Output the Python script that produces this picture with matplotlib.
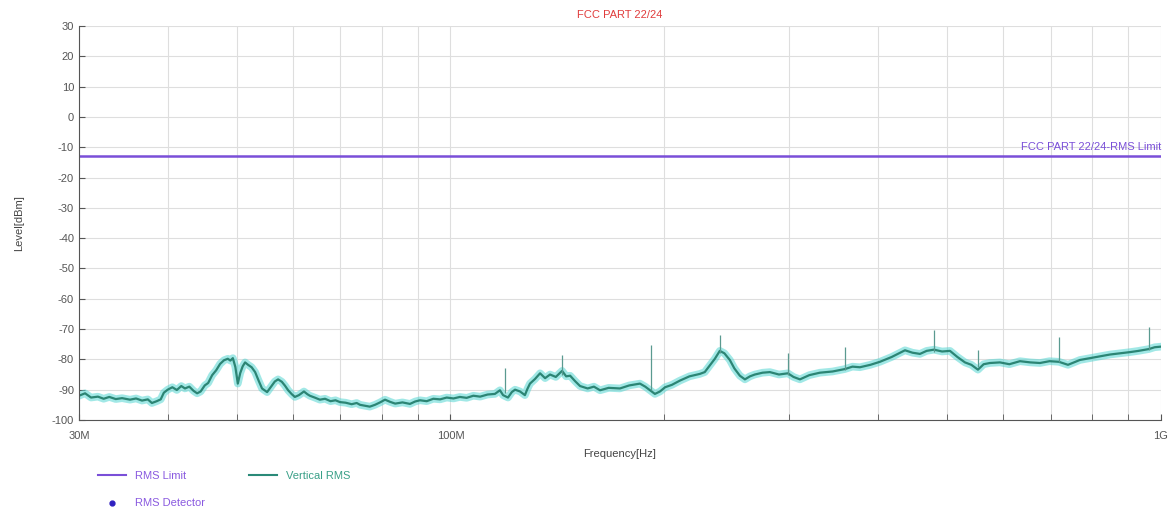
import matplotlib
matplotlib.use("Agg")
import matplotlib.pyplot as plt
from matplotlib.lines import Line2D
import numpy as np

plt.rcParams["font.family"] = ["Liberation Sans", "DejaVu Sans"]
plt.rcParams["axes.unicode_minus"] = False

TITLE = "FCC PART 22/24"
LIMIT_NAME = "FCC PART 22/24-RMS Limit"
LIMIT_DBM = -13.0

# Vertical RMS trace, frequency in MHz, level in dBm
freq_mhz = [
    30.0, 30.6, 31.2, 31.9, 32.5, 33.1, 33.8, 34.5, 35.4, 36.1, 36.8, 37.5, 38.0, 38.6, 39.1,
    39.5, 40.0, 40.6, 41.2, 41.8, 42.3, 42.9, 43.5, 44.0, 44.5, 45.1, 45.6, 46.2, 46.8, 47.4,
    48.0, 48.6, 49.0, 49.4, 49.8, 50.2, 50.6, 51.0, 51.4, 51.9, 52.5, 53.1, 53.7, 54.3, 55.2,
    56.0, 56.6, 57.2, 57.9, 58.5, 59.1, 59.8, 60.4, 61.2, 62.2, 62.9, 63.4, 64.4, 65.5, 66.6,
    67.8, 68.9, 69.9, 71.2, 72.6, 73.8, 74.6, 75.8, 77.0, 78.3, 79.6, 80.9, 82.2, 83.6, 85.6,
    87.7, 89.2, 90.6, 92.6, 94.6, 96.7, 98.8, 101.0, 103.1, 105.4, 107.7, 110.1, 112.8, 115.5,
    117.4, 118.6, 120.5, 122.0, 123.3, 125.3, 127.3, 128.3, 129.4, 131.5, 133.7, 135.9, 138.1,
    140.7, 143.6, 145.5, 147.4, 149.8, 152.2, 156.0, 159.2, 162.4, 167.0, 173.2, 178.5, 184.8,
    188.0, 191.5, 194.0, 197.2, 200.5, 205.0, 210.4, 217.0, 224.4, 228.0, 231.8, 235.6, 239.4,
    243.0, 247.3, 251.0, 255.5, 259.7, 264.0, 268.2, 275.0, 281.6, 290.0, 298.5, 304.0, 310.4,
    320.0, 331.1, 345.0, 359.1, 368.0, 377.0, 390.0, 402.3, 418.0, 436.3, 447.0, 458.0, 468.0,
    479.3, 492.0, 504.8, 517.0, 529.9, 541.0, 552.7, 563.0, 574.6, 593.5, 612.0, 633.3, 655.0,
    675.7, 697.0, 718.4, 740.0, 769.1, 795.0, 820.6, 848.0, 875.5, 905.0, 930.0, 961.8, 980.0,
    1000.0,
]
level_dbm = [
    -92.0, -91.2, -92.6, -92.3, -93.0, -92.4, -93.1, -92.8, -93.3, -92.9, -93.6, -93.2, -94.4, -93.8, -93.2,
    -91.0, -90.0, -89.2, -90.1, -88.8, -89.6, -89.0, -90.4, -91.2, -90.6, -88.6, -87.8, -85.2, -83.6, -81.5,
    -80.3, -79.8, -80.4, -79.6, -82.5, -88.0, -84.5, -82.3, -81.0, -81.8, -82.6, -84.2, -87.0, -89.6, -90.8,
    -88.8, -87.3, -86.6, -87.4, -88.7, -90.2, -91.5, -92.4, -91.8, -90.6, -91.5, -92.0, -92.6, -93.3, -93.0,
    -93.8, -93.5, -94.1, -94.3, -94.8, -94.4, -95.0, -95.3, -95.6, -95.0, -94.2, -93.3, -94.0, -94.6, -94.2,
    -94.7, -93.9, -93.5, -93.8, -93.0, -93.2, -92.6, -92.9, -92.4, -92.7, -92.0, -92.3, -91.6, -91.4,
    -90.2, -91.8, -92.6, -90.8, -90.0, -90.6, -91.8, -89.8, -88.0, -86.5, -84.6, -86.2, -85.0,
    -85.8, -83.8, -85.6, -85.4, -87.2, -88.8, -89.6, -89.0, -90.2, -89.4, -89.6, -88.6, -88.0,
    -89.0, -90.4, -91.4, -90.6, -89.2, -88.4, -87.0, -85.6, -84.8, -84.2, -82.0, -79.8, -77.2,
    -78.0, -80.2, -83.0, -85.4, -86.6, -85.6, -85.0, -84.4, -84.2, -85.0, -84.6, -85.8, -86.6,
    -85.2, -84.4, -84.0, -83.2, -82.4, -82.6, -81.8, -80.8, -79.2, -77.0, -77.8, -78.2, -77.2,
    -76.8, -77.4, -77.2, -79.2, -81.0, -81.8, -83.4, -81.6, -81.2, -81.0, -81.6, -80.6, -81.0,
    -81.2, -80.6, -80.8, -81.8, -80.2, -79.6, -79.0, -78.4, -78.0, -77.6, -77.2, -76.6, -76.0,
    -75.8,
]

# narrow spikes on top of the trace
spike_mhz = [119.3, 143.6, 191.5, 239.4, 298.5, 359.1, 479.3, 552.7, 718.4, 961.8]
spike_low = [-91.0, -85.0, -90.0, -78.0, -85.0, -83.5, -77.5, -82.5, -81.0, -77.0]
spike_high = [-83.0, -78.5, -75.3, -72.0, -78.0, -76.0, -70.3, -77.0, -72.6, -69.3]

x_major = [30, 100, 1000]
x_major_labels = ["30M", "100M", "1G"]
x_minor = [40, 50, 60, 70, 80, 90, 200, 300, 400, 500, 600, 700, 800, 900]

fig = plt.figure(figsize=(11.75, 5.09), dpi=100)
ax = fig.add_axes([0.0672, 0.1749, 0.9208, 0.774])

ax.plot(freq_mhz, level_dbm, color="#55d6d2", lw=5.5, alpha=0.55, solid_joinstyle="round")
ax.plot(freq_mhz, level_dbm, color="#1f7a68", lw=1.6, alpha=0.9)
ax.vlines(spike_mhz, spike_low, spike_high, color="#5a9a90", lw=0.9)
ax.axhline(LIMIT_DBM, color="#7a4fd8", lw=1.8)
ax.text(1000, LIMIT_DBM + 1.5, LIMIT_NAME, ha="right", va="bottom",
        color="#7a4fd8", fontsize=8)

ax.set_xscale("log")
ax.set_xlim(30, 1000)
ax.set_ylim(-100, 30)
ax.set_yticks(np.arange(-100, 31, 10))
ax.set_xticks(x_major)
ax.set_xticklabels(x_major_labels)
ax.set_xticks(x_minor, minor=True)
ax.xaxis.set_minor_formatter(plt.NullFormatter())
ax.grid(True, which="both", color="#dedede", lw=0.8)
ax.set_axisbelow(True)
for s in ["top", "right"]:
    ax.spines[s].set_visible(False)
for s in ["left", "bottom"]:
    ax.spines[s].set_color("#555555")
ax.tick_params(axis="both", which="both", direction="in", colors="#555555",
               labelsize=8, length=4)
ax.tick_params(axis="x", pad=8)

ax.set_title(TITLE, color="#e03c3c", fontsize=8, pad=6)
ax.set_xlabel("Frequency[Hz]", fontsize=8, color="#444444", labelpad=6)
ax.set_ylabel("Level[dBm]", fontsize=8, color="#444444", labelpad=20)

handles = [
    Line2D([], [], color="#7a4fd8", lw=1.5),
    Line2D([], [], color="#3020c0", marker="o", ms=3.5, ls="none"),
    Line2D([], [], color="#2a8a78", lw=1.5),
]
labels = ["RMS Limit", "RMS Detector", "Vertical RMS"]
leg = fig.legend(handles, labels, ncol=2, loc="upper left",
                 bbox_to_anchor=(0.075, 0.095), frameon=False, fontsize=8,
                 handlelength=2.5, columnspacing=4.0, labelspacing=1.6)
for t, c in zip(leg.get_texts(), ["#8a5ae0", "#8a5ae0", "#3aa088"]):
    t.set_color(c)

fig.savefig("out.png", dpi=100)
